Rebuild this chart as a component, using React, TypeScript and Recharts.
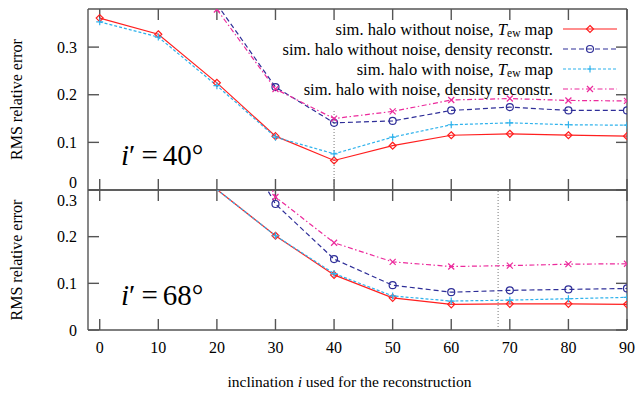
import { LineChart, Line, XAxis, YAxis, ReferenceLine, Legend } from 'recharts';

const FONT = '"Liberation Serif", "Times New Roman", serif';
const W = 637;
const H = 394;

const INCLINATIONS = [0, 10, 20, 30, 40, 50, 60, 70, 80, 90];
const X_TICKS = [0, 10, 20, 30, 40, 50, 60, 70, 80, 90];
const Y_TICKS = [0, 0.1, 0.2, 0.3];
const X_DOMAIN: [number, number] = [-2, 90];

// true inclination 40 deg
const TEW_CLEAN_40 = [0.361, 0.327, 0.225, 0.113, 0.062, 0.093, 0.115, 0.118, 0.115, 0.113];
const DENS_CLEAN_40 = [null, null, 0.39, 0.216, 0.141, 0.145, 0.167, 0.174, 0.167, 0.167];
const TEW_NOISE_40 = [0.353, 0.321, 0.219, 0.111, 0.076, 0.111, 0.137, 0.141, 0.137, 0.136];
const DENS_NOISE_40 = [null, null, 0.379, 0.212, 0.150, 0.165, 0.189, 0.192, 0.188, 0.187];

// true inclination 68 deg
const TEW_CLEAN_68 = [null, null, 0.301, 0.202, 0.118, 0.069, 0.055, 0.056, 0.056, 0.055];
const DENS_CLEAN_68 = [null, null, 0.49, 0.27, 0.152, 0.096, 0.081, 0.085, 0.087, 0.089];
const TEW_NOISE_68 = [null, null, 0.301, 0.202, 0.121, 0.073, 0.062, 0.064, 0.067, 0.07];
const DENS_NOISE_68 = [null, null, 0.56, 0.285, 0.187, 0.146, 0.136, 0.138, 0.141, 0.142];

type Kind = 'diamond' | 'circle' | 'plus' | 'cross';

const SERIES: { key: string; color: string; dash?: string; marker: Kind; label: string; tew: boolean }[] = [
  { key: 'tewClean', color: '#ff1f1f', marker: 'diamond', label: 'sim. halo without noise, ', tew: true },
  { key: 'densClean', color: '#2e2e98', dash: '5 3', marker: 'circle', label: 'sim. halo without noise, density reconstr.', tew: false },
  { key: 'tewNoise', color: '#2fb2ec', dash: '3 2', marker: 'plus', label: 'sim. halo with noise, ', tew: true },
  { key: 'densNoise', color: '#ec2a9c', dash: '5 2.5 1.5 2.5', marker: 'cross', label: 'sim. halo with noise, density reconstr.', tew: false },
];

const rows40 = INCLINATIONS.map((incl, i) => ({
  incl,
  tewClean: TEW_CLEAN_40[i],
  densClean: DENS_CLEAN_40[i],
  tewNoise: TEW_NOISE_40[i],
  densNoise: DENS_NOISE_40[i],
}));

const rows68 = INCLINATIONS.map((incl, i) => ({
  incl,
  tewClean: TEW_CLEAN_68[i],
  densClean: DENS_CLEAN_68[i],
  tewNoise: TEW_NOISE_68[i],
  densNoise: DENS_NOISE_68[i],
}));

const INK = '#000';
const FRAME = '#555';
const TICK_PX = 11;
const PLOT_W = 539;

function Marker({ kind, cx, cy, color }: { kind: Kind; cx: number; cy: number; color: string }) {
  const s = 3.5;
  const common = { fill: 'none', stroke: color, strokeWidth: 1.2 };
  if (kind === 'diamond')
    return <path d={`M${cx},${cy - s}L${cx + s},${cy}L${cx},${cy + s}L${cx - s},${cy}Z`} {...common} />;
  if (kind === 'circle') return <circle cx={cx} cy={cy} r={3.5} {...common} />;
  if (kind === 'plus') return <path d={`M${cx - s},${cy}H${cx + s}M${cx},${cy - s}V${cy + s}`} {...common} />;
  const c = 3;
  return <path d={`M${cx - c},${cy - c}L${cx + c},${cy + c}M${cx - c},${cy + c}L${cx + c},${cy - c}`} {...common} />;
}

// points above the panel's range get no marker
const dotFor = (kind: Kind, color: string, key: string, yMax: number) => (p: any) => {
  const v = p.payload ? p.payload[key] : null;
  if (p.cx == null || p.cy == null || v == null || v > yMax) return <g key={p.index} />;
  return (
    <g key={p.index}>
      <Marker kind={kind} cx={p.cx} cy={p.cy} color={color} />
    </g>
  );
};

const fmt = (v: number) => (v === 0 ? '0' : v.toFixed(1));

const leftTick = (shift: Record<string, number>) => (p: any) => {
  const v = p.payload.value;
  return (
    <text x={p.x - 11} y={p.y + (shift[String(v)] ?? 0)} textAnchor="end" dominantBaseline="central"
      fontSize={16} fontFamily={FONT} fill={INK}>
      {fmt(v)}
    </text>
  );
};

const bottomTickLabel = (p: any) => (
  <text x={p.x} y={p.y + 17} textAnchor="middle" dominantBaseline="central" fontSize={16} fontFamily={FONT} fill={INK}>
    {p.payload.value}
  </text>
);

const yTitle = ({ viewBox }: any) => {
  const cx = viewBox.x + 16;
  const cy = viewBox.y + viewBox.height / 2;
  return (
    <text x={cx} y={cy} transform={`rotate(-90 ${cx} ${cy})`} textAnchor="middle" dominantBaseline="central"
      fontSize={16} fontFamily={FONT} fill={INK}>
      RMS relative error
    </text>
  );
};

const xTitle = ({ viewBox }: any) => (
  <text x={viewBox.x + viewBox.width / 2 - 8} y={viewBox.y + 51} textAnchor="middle" dominantBaseline="central"
    fontSize={15.5} fontFamily={FONT} fill={INK}>
    inclination <tspan fontStyle="italic">i</tspan> used for the reconstruction
  </text>
);

const renderLegend = () => (
  <svg width={W} height={100} style={{ display: 'block', overflow: 'visible' }}>
    {SERIES.map((s, i) => {
      const y = 29 + i * 20;
      return (
        <g key={s.key}>
          <text x={553} y={y} textAnchor="end" dominantBaseline="central" fontSize={16.5} fontFamily={FONT} fill={INK}>
            {s.label}
            {s.tew && (
              <>
                <tspan fontStyle="italic">T</tspan>
                <tspan fontSize={11.5} dy={4}>ew</tspan>
                <tspan dy={-4}> map</tspan>
              </>
            )}
          </text>
          <line x1={563} x2={617} y1={y} y2={y} stroke={s.color} strokeWidth={1.2} strokeDasharray={s.dash} />
          <Marker kind={s.marker} cx={590} cy={y} color={s.color} />
        </g>
      );
    })}
  </svg>
);

// box around the plot area plus inward mirrored ticks on all four sides
function frame(yMax: number, plotH: number) {
  const [x0, x1] = X_DOMAIN;
  const ty = (yMax * TICK_PX) / plotH;
  const tx = ((x1 - x0) * TICK_PX) / PLOT_W;
  const seg = (a: { x: number; y: number }, b: { x: number; y: number }, k: string) => (
    <ReferenceLine key={k} segment={[a, b]} stroke={FRAME} strokeWidth={1.4} />
  );
  return [
    ...X_TICKS.map((t) => seg({ x: t, y: 0 }, { x: t, y: ty }, `xb${t}`)),
    ...X_TICKS.map((t) => seg({ x: t, y: yMax }, { x: t, y: yMax - ty }, `xt${t}`)),
    ...Y_TICKS.map((v) => seg({ x: x0, y: v }, { x: x0 + tx, y: v }, `yl${v}`)),
    ...Y_TICKS.map((v) => seg({ x: x1, y: v }, { x: x1 - tx, y: v }, `yr${v}`)),
    seg({ x: x0, y: 0 }, { x: x1, y: 0 }, 'b'),
    seg({ x: x0, y: yMax }, { x: x1, y: yMax }, 't'),
    seg({ x: x0, y: 0 }, { x: x0, y: yMax }, 'l'),
    seg({ x: x1, y: 0 }, { x: x1, y: yMax }, 'r'),
  ];
}

function Panel({ rows, y0, height, top, bottom, yMax, plotH, shift, last }: {
  rows: any[]; y0: number; height: number; top: number; bottom: number; yMax: number; plotH: number;
  shift: Record<string, number>; last: boolean;
}) {
  return (
    <div style={{ position: 'absolute', left: 0, top: y0 }}>
      <LineChart width={W} height={height} data={rows} margin={{ top, right: 10, bottom, left: 0 }}>
        <XAxis dataKey="incl" type="number" domain={X_DOMAIN} ticks={X_TICKS} interval={0} allowDataOverflow
          height={last ? 64 : 1} tickSize={0} tickMargin={0} tickLine={false} axisLine={false}
          tick={last ? bottomTickLabel : false} label={last ? { content: xTitle } : undefined} />
        <YAxis type="number" domain={[0, yMax]} ticks={Y_TICKS} interval={0} allowDataOverflow width={88}
          tickSize={0} tickMargin={0} tickLine={false} axisLine={false} tick={leftTick(shift)}
          label={{ content: yTitle }} />
        {frame(yMax, plotH)}
        {last ? (
          <ReferenceLine x={68} stroke="#777" strokeDasharray="1 2" />
        ) : (
          <ReferenceLine segment={[{ x: 40, y: 0 }, { x: 40, y: 0.17 }]} stroke="#777" strokeDasharray="1 2" />
        )}
        {SERIES.map((s) => (
          <Line key={s.key} type="linear" dataKey={s.key} stroke={s.color} strokeWidth={1.2}
            strokeDasharray={s.dash} dot={dotFor(s.marker, s.color, s.key, yMax)} activeDot={false}
            isAnimationActive={false} />
        ))}
        {!last && (
          <Legend content={renderLegend} layout="horizontal" verticalAlign="middle" align="center"
            wrapperStyle={{ position: 'absolute', left: 0, top: 0, width: W, height: 100 }} />
        )}
      </LineChart>
    </div>
  );
}

function Angle({ y, deg }: { y: number; deg: string }) {
  return (
    <text x={121} y={y} fontSize={29} fontFamily={FONT} fill={INK}>
      <tspan fontStyle="italic">i</tspan>
      <tspan>′</tspan>
      <tspan dx={6}>=</tspan>
      <tspan dx={5}>{deg}°</tspan>
    </text>
  );
}

export default function App() {
  return (
    <div style={{ position: 'absolute', left: 0, top: 0, width: W, height: H, background: '#fff', fontFamily: FONT }}>
      <Panel rows={rows40} y0={0} height={200} top={9} bottom={9} yMax={0.38} plotH={181}
        shift={{ '0': -8 }} last={false} />
      <Panel rows={rows68} y0={180} height={214} top={10} bottom={0} yMax={0.3} plotH={140}
        shift={{ '0.3': 10 }} last />
      <svg width={W} height={H} style={{ position: 'absolute', left: 0, top: 0, pointerEvents: 'none' }}>
        <Angle y={165} deg="40" />
        <Angle y={305} deg="68" />
      </svg>
    </div>
  );
}
